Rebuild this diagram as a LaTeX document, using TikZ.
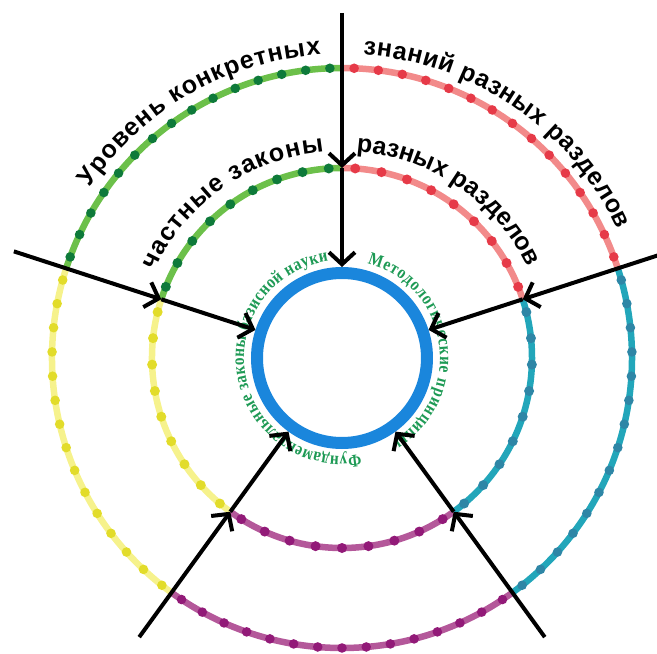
\documentclass[tikz,border=0pt]{standalone}
\usepackage{fontspec}
\setmainfont{Liberation Serif}
\setsansfont{Liberation Sans}
\newfontfamily\greenfont[FakeStretch=0.85]{Liberation Serif}
\usetikzlibrary{arrows.meta,decorations.text}

\definecolor{grline}{HTML}{6CC04A}
\definecolor{grdot}{HTML}{0E7A3A}
\definecolor{rdline}{HTML}{F28A8A}
\definecolor{rddot}{HTML}{E63A48}
\definecolor{yeline}{HTML}{F6F28C}
\definecolor{yedot}{HTML}{E2DC2A}
\definecolor{mgline}{HTML}{B4589A}
\definecolor{mgdot}{HTML}{921A78}
\definecolor{tlline}{HTML}{22A6BA}
\definecolor{tldot}{HTML}{2E86A6}
\definecolor{ringblue}{HTML}{1A86DC}
\definecolor{txtgreen}{HTML}{1E9A55}

\begin{document}
\begin{tikzpicture}[x=1pt,y=1pt,
  ring/.style={line width=6.5pt},
  arr/.style={line width=4pt, -{Straight Barb[length=12pt,width=26pt,line width=4pt]}},
  blacktext/.style={decorate, decoration={text along path, text align=fit to path,
    text={|\sffamily\bfseries\fontsize{25}{25}\selectfont|#1}}},
  greentext/.style={decorate, decoration={text along path, text align=fit to path,
    text={|\color{txtgreen}\greenfont\bfseries\fontsize{18}{18}\selectfont|#1}}}]
\useasboundingbox (-342,-296) rectangle (315,358);

% dotted rings, one colour per sector
\foreach \a/\lc/\dc in {90/grline/grdot, 162/yeline/yedot, 234/mgline/mgdot, 306/tlline/tldot, 18/rdline/rddot}{
  \draw[ring,\lc] (\a:290) arc[start angle=\a, end angle=\a+72, radius=290];
  \draw[ring,\lc] (\a:190) arc[start angle=\a, end angle=\a+72, radius=190];
  \foreach \k in {0,...,14} \fill[\dc] ({\a+2.4+\k*4.8}:290) circle (4.8);
  \foreach \k in {0,...,8} \fill[\dc] ({\a+4+\k*8}:190) circle (5);
}

\draw[line width=12pt, ringblue] (0,0) circle (85);

% labels along the rings
\path[blacktext={Уровень конкретных}] (146:304) arc[start angle=146, end angle=94, radius=304];
\path[blacktext={знаний разных разделов}] (86:304) arc[start angle=86, end angle=25, radius=304];
\path[blacktext={частные законы}] (155:207) arc[start angle=155, end angle=95, radius=207];
\path[blacktext={разных разделов}] (86:207) arc[start angle=86, end angle=26, radius=207];
\path[greentext={Фундаментальные законы базисной науки}] (-79:98) arc[start angle=-79, end angle=-262, radius=98];
\path[greentext={Методологические принципы}] (75:98) arc[start angle=75, end angle=-58, radius=98];

% arrows
\foreach \a [count=\i] in {90,162,234,306,18}{
  \coordinate (s\i) at (\a:345);
  \coordinate (m\i) at (\a:190);
  \coordinate (e\i) at (\a:91);
}
\foreach \i in {1,...,5}{
  \draw[arr] (s\i) -- (m\i);
  \draw[arr] (m\i) -- (e\i);
}
\end{tikzpicture}
\end{document}
